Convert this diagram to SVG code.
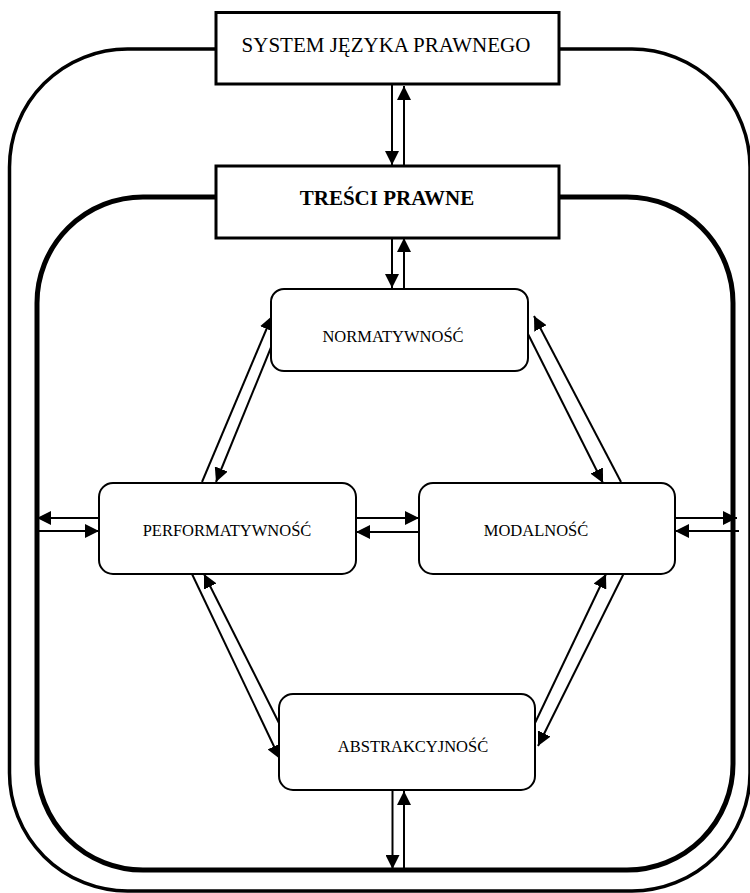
<svg xmlns="http://www.w3.org/2000/svg" width="750" height="893" viewBox="0 0 750 893">
  <style>
    text { font-family: "Liberation Serif", "Times New Roman", serif; fill: #000; text-anchor: middle; }
    .frame { fill: none; stroke: #000; }
    .box { fill: #fff; stroke: #000; stroke-width: 3; }
    .rbox { fill: #fff; stroke: #000; stroke-width: 2; }
    .link { fill: none; stroke: #000; stroke-width: 2; marker-end: url(#head); }
    .big { font-size: 21px; }
    .small { font-size: 16.5px; }
  </style>
  <defs>
    <marker id="head" markerUnits="userSpaceOnUse" markerWidth="15" markerHeight="14" refX="14" refY="7" orient="auto">
      <path d="M0,0 L14,7 L0,14 z" fill="#000"/>
    </marker>
  </defs>

  <rect width="750" height="893" fill="#fff"/>

  <!-- enclosing frames -->
  <g id="frames">
    <rect class="frame" x="9.5" y="49" width="740.5" height="842" rx="118" ry="118" stroke-width="3.5"/>
    <rect class="frame" x="37" y="197" width="696" height="673" rx="106" ry="106" stroke-width="5"/>
  </g>

  <!-- connectors -->
  <g id="connectors">
    <!-- system <-> treści -->
    <line class="link" x1="392" y1="84" x2="392" y2="165"/>
    <line class="link" x1="404" y1="166" x2="404" y2="86"/>
    <!-- treści <-> normatywność -->
    <line class="link" x1="392" y1="233" x2="392" y2="288"/>
    <line class="link" x1="404" y1="293" x2="404" y2="238"/>
    <!-- normatywność <-> performatywność -->
    <line class="link" x1="202" y1="482" x2="272" y2="316"/>
    <line class="link" x1="272" y1="345" x2="216" y2="482"/>
    <!-- normatywność <-> modalność -->
    <line class="link" x1="527" y1="332" x2="603" y2="483"/>
    <line class="link" x1="621" y1="482" x2="534" y2="316"/>
    <!-- performatywność <-> modalność -->
    <line class="link" x1="356" y1="518" x2="419" y2="518"/>
    <line class="link" x1="419" y1="532" x2="356" y2="532"/>
    <!-- performatywność <-> frame -->
    <line class="link" x1="99" y1="518" x2="37" y2="518"/>
    <line class="link" x1="37" y1="531" x2="99" y2="531"/>
    <!-- modalność <-> frame -->
    <line class="link" x1="675" y1="518" x2="737" y2="518"/>
    <line class="link" x1="739" y1="531" x2="675" y2="531"/>
    <!-- performatywność <-> abstrakcyjność -->
    <line class="link" x1="192" y1="574" x2="280" y2="759"/>
    <line class="link" x1="279" y1="723" x2="204" y2="574"/>
    <!-- modalność <-> abstrakcyjność -->
    <line class="link" x1="535" y1="723" x2="606" y2="574"/>
    <line class="link" x1="624" y1="573" x2="538" y2="746"/>
    <!-- abstrakcyjność <-> frame -->
    <line class="link" x1="392.5" y1="790" x2="392.5" y2="869"/>
    <line class="link" x1="404" y1="870" x2="404" y2="791"/>
  </g>

  <g id="system">
    <rect class="box" x="216" y="12.5" width="343" height="71.5"/>
    <text class="big" x="386" y="52">SYSTEM JĘZYKA PRAWNEGO</text>
  </g>

  <g id="tresci">
    <rect class="box" x="216" y="166" width="343" height="72"/>
    <text class="big" x="387" y="205" font-weight="bold">TREŚCI PRAWNE</text>
  </g>

  <g id="normatywnosc">
    <rect class="rbox" x="271" y="289" width="257" height="82" rx="13" ry="13"/>
    <text class="small" x="393" y="342">NORMATYWNOŚĆ</text>
  </g>

  <g id="performatywnosc">
    <rect class="rbox" x="99" y="483" width="257" height="91" rx="14" ry="14"/>
    <text class="small" x="227" y="536">PERFORMATYWNOŚĆ</text>
  </g>

  <g id="modalnosc">
    <rect class="rbox" x="419" y="483" width="256" height="91" rx="14" ry="14"/>
    <text class="small" x="536" y="536">MODALNOŚĆ</text>
  </g>

  <g id="abstrakcyjnosc">
    <rect class="rbox" x="279" y="694" width="256" height="96" rx="14" ry="14"/>
    <text class="small" x="413" y="752">ABSTRAKCYJNOŚĆ</text>
  </g>
</svg>
